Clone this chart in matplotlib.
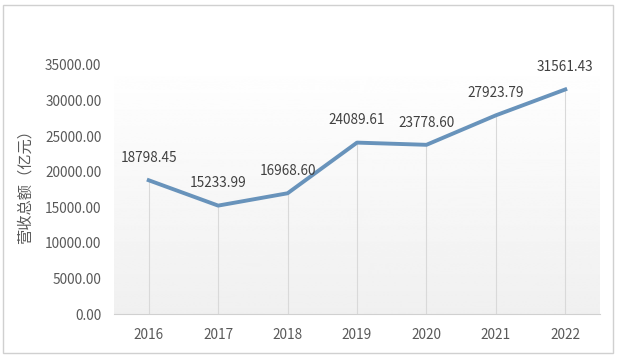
import numpy as np
import matplotlib.pyplot as plt
from matplotlib.patches import Rectangle

plt.rcParams['font.family'] = ['Noto Sans CJK SC', 'DejaVu Sans']

years = ['2016', '2017', '2018', '2019', '2020', '2021', '2022']
revenue = [18798.45, 15233.99, 16968.60, 24089.61, 23778.60, 27923.79, 31561.43]
yticks = [0, 5000, 10000, 15000, 20000, 25000, 30000, 35000]

fig = plt.figure(figsize=(6.17, 3.56), dpi=100)
ax = fig.add_axes([114 / 617, 1 - 314 / 356, 486 / 617, 254 / 356])

x = np.arange(len(years))
ax.set_xlim(-0.5, len(years) - 0.5)
ax.set_ylim(0, 35700)

# soft gradient background, white at top to light grey at the bottom
grad = np.linspace(1.0, 0.94, 256).reshape(-1, 1)
ax.imshow(grad, cmap='gray', vmin=0, vmax=1, aspect='auto',
          extent=(-0.5, len(years) - 0.5, 0, 35700), origin='upper', zorder=0)

# drop lines from each point down to the axis
ax.vlines(x, 0, revenue, color='#d9d9d9', lw=0.8, zorder=1)

ax.plot(x, revenue, color='#6893bb', lw=2.8, solid_joinstyle='round', zorder=3)

for xi, v in zip(x, revenue):
    ax.annotate(f'{v:.2f}', (xi, v), xytext=(0, 11), textcoords='offset points',
                ha='center', va='bottom', fontsize=9.8, color='#404040')

ax.set_xticks(x)
ax.set_xticklabels(years)
ax.set_yticks(yticks)
ax.set_yticklabels([f'{t:.2f}' for t in yticks])
ax.tick_params(length=0, labelsize=9.8, colors='#595959')
ax.tick_params(axis='y', pad=9)
ax.tick_params(axis='x', pad=10)

for s in ['top', 'right', 'left']:
    ax.spines[s].set_visible(False)
ax.spines['bottom'].set_color('#d0d0d0')

fig.text(25 / 617, 1 - 183 / 356, '营收总额（亿元）', rotation=90, ha='center', va='center',
         fontsize=11, color='#595959')

fig.patches.append(Rectangle((3 / 617, 3 / 356), 610 / 617, 348 / 356, transform=fig.transFigure,
                             fill=False, edgecolor='#d0d0d0', lw=1))

fig.savefig('out.png', dpi=100)
